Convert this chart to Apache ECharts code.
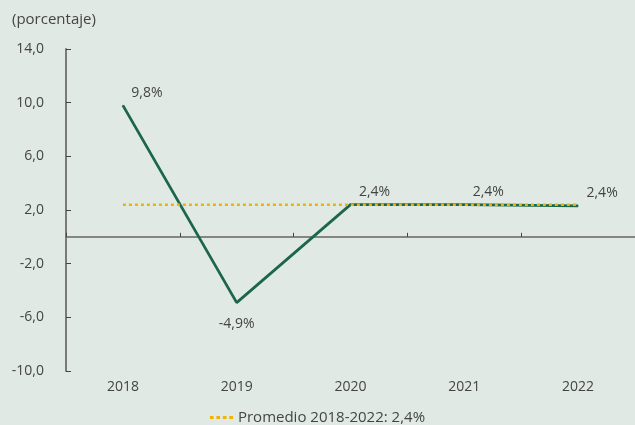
<!DOCTYPE html>
<html>
<head>
<meta charset="utf-8">
<script src="https://cdn.jsdelivr.net/npm/echarts@6/dist/echarts.min.js"></script>
<style>
  html, body { margin: 0; padding: 0; background: #e1e9e4; }
  #chart { width: 635px; height: 425px; }
</style>
</head>
<body>
<div id="chart"></div>
<script>
  // datos
  var years = ['2018', '2019', '2020', '2021', '2022'];
  var crecimiento = [9.8, -4.9, 2.4, 2.4, 2.3];
  var etiquetas = ['9,8%', '-4,9%', '2,4%', '2,4%', '2,4%'];
  var promedio = [2.4, 2.4, 2.4, 2.4, 2.4];
  var promedioNombre = 'Promedio 2018-2022: 2,4%';

  var font = '"Open Sans", "Noto Sans", sans-serif';
  var verde = '#1d6749';
  var amarillo = '#f0b400';
  var chart = echarts.init(document.getElementById('chart'));

  var puntos = crecimiento.map(function (v, i) {
    var item = { value: v };
    if (v < 0) {
      item.label = { position: 'bottom', offset: [0, 9] };
    }
    return item;
  });

  var ejeY = {
    type: 'value',
    min: -10,
    max: 14,
    interval: 4,
    splitLine: { show: false }
  };

  chart.setOption({
    backgroundColor: '#e1e9e4',
    textStyle: { fontFamily: font },
    animation: false,
    title: {
      text: '(porcentaje)',
      left: 7,
      top: 7,
      textStyle: { fontSize: 15, fontWeight: 'normal', color: '#444', fontFamily: font }
    },
    legend: {
      bottom: -5,
      left: 'center',
      data: [{
        name: promedioNombre,
        icon: 'path://M0,0h4v3h-4zM7,0h4v3h-4zM14,0h4v3h-4zM21,0h4v3h-4z'
      }],
      itemWidth: 23,
      itemHeight: 3,
      itemGap: 4,
      textStyle: { fontSize: 15, color: '#444', fontFamily: font }
    },
    grid: { left: 66, right: -6, top: 49, bottom: 54 },
    xAxis: [
      {
        type: 'category',
        data: years,
        axisLine: { show: true, onZero: true, lineStyle: { color: '#666', width: 1.5 } },
        axisTick: { show: true, inside: true, length: 4, lineStyle: { color: '#444', width: 1 } },
        axisLabel: { show: false }
      },
      {
        type: 'category',
        data: years,
        position: 'bottom',
        axisLine: { show: false, onZero: false },
        axisTick: { show: false },
        axisLabel: { color: '#444', fontSize: 14, margin: 9, fontFamily: font }
      }
    ],
    yAxis: [
      Object.assign({}, ejeY, {
        axisLine: { show: true, onZero: false, lineStyle: { color: '#7a7a7a', width: 2 } },
        axisTick: { show: false },
        axisLabel: {
          color: '#444',
          fontSize: 14,
          margin: 22,
          fontFamily: font,
          formatter: function (v) { return v.toFixed(1).replace('.', ','); }
        }
      }),
      // marcas hacia la derecha del eje
      Object.assign({}, ejeY, {
        position: 'left',
        offset: -5,
        axisLine: { show: false, onZero: false },
        axisTick: { show: true, length: 5, lineStyle: { color: '#444', width: 1 } },
        axisLabel: { show: false }
      })
    ],
    series: [
      {
        name: 'Crecimiento',
        type: 'line',
        xAxisIndex: 0,
        yAxisIndex: 0,
        data: puntos,
        symbol: 'circle',
        symbolSize: 1,
        showSymbol: true,
        lineStyle: { color: verde, width: 2.8 },
        itemStyle: { color: verde },
        z: 2,
        label: {
          show: true,
          position: 'top',
          offset: [24, 0],
          color: '#444',
          fontSize: 14,
          fontFamily: font,
          formatter: function (p) { return etiquetas[p.dataIndex]; }
        }
      },
      {
        name: promedioNombre,
        type: 'line',
        xAxisIndex: 0,
        yAxisIndex: 0,
        data: promedio,
        symbol: 'none',
        z: 3,
        lineStyle: { color: amarillo, width: 2.5, type: [3, 3] },
        itemStyle: { color: amarillo }
      }
    ]
  });
</script>
</body>
</html>
